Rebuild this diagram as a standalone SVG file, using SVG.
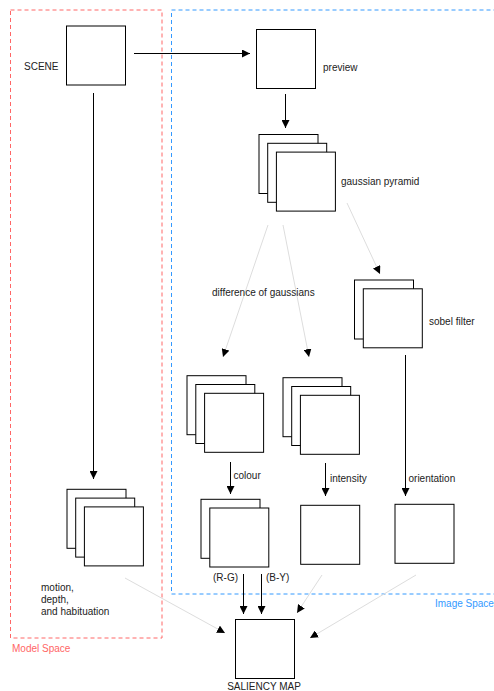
<svg xmlns="http://www.w3.org/2000/svg" width="494" height="691" viewBox="0 0 494 691">
  <defs>
    <style>
      .box { fill: #fff; stroke: #000; stroke-width: 1; }
      .lbl { font-family: "Liberation Sans", Arial, sans-serif; font-size: 10px; fill: #222; }
      .edge { fill: none; stroke: #000; stroke-width: 1; }
      .faint { fill: none; stroke: #ddd; stroke-width: 1; }
      .region { fill: none; stroke-width: 1; stroke-dasharray: 4 3; }
    </style>
    <marker id="arr" viewBox="0 0 10 10" refX="10" refY="5" markerWidth="8" markerHeight="8" markerUnits="userSpaceOnUse" orient="auto">
      <path d="M0,0 L10,5 L0,10 z" fill="#000"/>
    </marker>
  </defs>
  <rect width="494" height="691" fill="#fff"/>

  <!-- regions -->
  <g id="model-space">
    <rect class="region" x="10.5" y="10" width="151.5" height="628" stroke="#ff6666"/>
    <text class="lbl" x="12" y="652" style="fill:#ff6666">Model Space</text>
  </g>
  <g id="image-space">
    <rect class="region" x="171.5" y="10" width="340" height="584" stroke="#3399ff"/>
    <text class="lbl" x="435" y="607" style="fill:#3399ff">Image Space</text>
  </g>

  <!-- connectors -->
  <g id="connectors">
    <line class="edge" x1="134" y1="53.5" x2="250" y2="53.5" marker-end="url(#arr)"/>
    <line class="edge" x1="93.5" y1="93" x2="93.5" y2="479" marker-end="url(#arr)"/>
    <line class="edge" x1="285.5" y1="94" x2="285.5" y2="128" marker-end="url(#arr)"/>
    <line class="faint" x1="268" y1="225" x2="223" y2="357" marker-end="url(#arr)"/>
    <line class="faint" x1="283" y1="225" x2="309" y2="357" marker-end="url(#arr)"/>
    <line class="faint" x1="347" y1="203" x2="380" y2="274" marker-end="url(#arr)"/>
    <line class="edge" x1="230.5" y1="462" x2="230.5" y2="494" marker-end="url(#arr)"/>
    <line class="edge" x1="325.5" y1="463" x2="325.5" y2="496" marker-end="url(#arr)"/>
    <line class="edge" x1="405.5" y1="355" x2="405.5" y2="496" marker-end="url(#arr)"/>
    <line class="edge" x1="243.5" y1="574" x2="243.5" y2="614" marker-end="url(#arr)"/>
    <line class="edge" x1="261.5" y1="574" x2="261.5" y2="614" marker-end="url(#arr)"/>
    <line class="faint" x1="322" y1="575" x2="297" y2="613" marker-end="url(#arr)"/>
    <line class="faint" x1="416" y1="575" x2="310" y2="638" marker-end="url(#arr)"/>
    <line class="faint" x1="125" y1="578" x2="225" y2="633" marker-end="url(#arr)"/>
  </g>

  <!-- nodes -->
  <g id="scene">
    <rect class="box" x="66.5" y="26" width="59" height="59"/>
    <text class="lbl" x="24" y="70">SCENE</text>
  </g>
  <g id="preview">
    <rect class="box" x="256.5" y="29.5" width="59" height="59"/>
    <text class="lbl" x="323" y="71">preview</text>
  </g>
  <g id="gaussian-pyramid">
    <rect class="box" x="259" y="134.5" width="59" height="59"/>
    <rect class="box" x="267.7" y="143.3" width="59" height="59"/>
    <rect class="box" x="276.4" y="152.1" width="59" height="59"/>
    <text class="lbl" x="341" y="185">gaussian pyramid</text>
  </g>
  <g id="dog-label">
    <text class="lbl" x="212" y="296">difference of gaussians</text>
  </g>
  <g id="sobel-filter">
    <rect class="box" x="354.5" y="280" width="59" height="59"/>
    <rect class="box" x="363.3" y="288.8" width="59" height="59"/>
    <text class="lbl" x="429" y="325">sobel filter</text>
  </g>
  <g id="colour-dog">
    <rect class="box" x="187" y="375.7" width="59" height="59"/>
    <rect class="box" x="195.8" y="384.5" width="59" height="59"/>
    <rect class="box" x="204.6" y="393.3" width="59" height="59"/>
    <text class="lbl" x="233.5" y="479">colour</text>
  </g>
  <g id="intensity-dog">
    <rect class="box" x="283" y="377.7" width="59" height="59"/>
    <rect class="box" x="291.7" y="386.5" width="59" height="59"/>
    <rect class="box" x="300.4" y="395.3" width="59" height="59"/>
    <text class="lbl" x="330" y="482">intensity</text>
  </g>
  <g id="orientation-label">
    <text class="lbl" x="408.5" y="482">orientation</text>
  </g>
  <g id="colour-maps">
    <rect class="box" x="201" y="499.3" width="59" height="59"/>
    <rect class="box" x="209.8" y="508" width="59" height="59"/>
    <text class="lbl" x="213" y="581">(R-G)</text>
    <text class="lbl" x="266" y="581">(B-Y)</text>
  </g>
  <g id="intensity-map">
    <rect class="box" x="300.7" y="505.3" width="59" height="59"/>
  </g>
  <g id="orientation-map">
    <rect class="box" x="395" y="504.3" width="59" height="59"/>
  </g>
  <g id="motion-depth">
    <rect class="box" x="67" y="489.3" width="59" height="59"/>
    <rect class="box" x="75.7" y="498.1" width="59" height="59"/>
    <rect class="box" x="84.4" y="506.9" width="59" height="59"/>
    <text class="lbl" x="41" y="591">motion,</text>
    <text class="lbl" x="41" y="603">depth,</text>
    <text class="lbl" x="41" y="615">and habituation</text>
  </g>
  <g id="saliency-map">
    <rect class="box" x="235.5" y="619.5" width="59" height="59"/>
    <text class="lbl" x="264" y="690" text-anchor="middle">SALIENCY MAP</text>
  </g>
</svg>
